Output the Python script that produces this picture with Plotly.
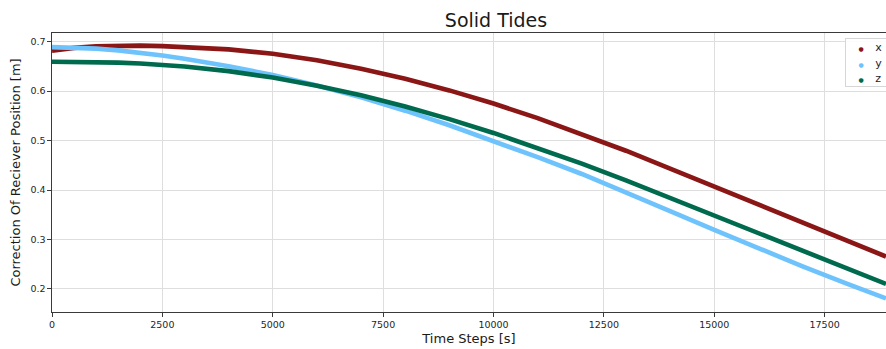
import plotly.graph_objects as go

# Time steps [s]
time_s = [0, 500, 1000, 1500, 2000, 2500, 3000, 4000, 5000, 6000, 7000, 8000,
          9000, 10000, 11000, 12000, 13000, 14000, 15000, 16000, 17000, 18000, 18890]

# Correction of receiver position [m]
corr_x = [0.682, 0.6875, 0.6905, 0.6918, 0.692, 0.691, 0.6893, 0.6845, 0.6755, 0.6625,
          0.6455, 0.625, 0.6015, 0.575, 0.5455, 0.5135, 0.4795, 0.4435, 0.4067, 0.3699,
          0.3333, 0.2971, 0.2655]
corr_y = [0.689, 0.6885, 0.686, 0.6825, 0.678, 0.672, 0.6655, 0.6505, 0.6325, 0.6115,
          0.5875, 0.5605, 0.531, 0.4995, 0.4665, 0.4325, 0.396, 0.3575, 0.3195, 0.2821,
          0.2458, 0.2108, 0.181]
corr_z = [0.6595, 0.6595, 0.659, 0.6577, 0.656, 0.6533, 0.650, 0.6405, 0.6275, 0.611,
          0.5915, 0.569, 0.5435, 0.5155, 0.4855, 0.4535, 0.4195, 0.384, 0.3475, 0.311,
          0.275, 0.240, 0.2102]

series_names = ["x", "y", "z"]
series_colors = ["#8b1616", "#6ec3fd", "#006a4e"]
series_values = [corr_x, corr_y, corr_z]

fig = go.Figure()
for name, color, vals in zip(series_names, series_colors, series_values):
    fig.add_trace(go.Scatter(
        x=time_s, y=vals, mode="lines", name=name,
        line=dict(color=color, width=4.6), hoverinfo="skip"))

# legend drawn as a text box (matplotlib-like compact legend)
NB = "\u00a0"
legend_lines = []
for name, color in zip(series_names, series_colors):
    legend_lines.append(
        NB * 3 + f"<span style='color:{color};font-size:6px'>●</span>" + NB * 3
        + f"<span style='font-size:11px'>{name}</span>")
legend_text = "<br>".join(legend_lines) + NB * 6

font_family = "DejaVu Sans"
fig.update_layout(
    width=886, height=349,
    margin=dict(l=52, r=0, t=33, b=37),
    paper_bgcolor="white", plot_bgcolor="white",
    font=dict(family=font_family, size=9.5, color="#262626"),
    title=dict(text="Solid Tides", x=471.7 / 886, xref="paper", xanchor="center",
               y=1 - 20.5 / 349, yref="container", yanchor="middle",
               font=dict(size=19, color="#1a1a1a")),
    showlegend=False,
    annotations=[dict(
        text=legend_text, xref="paper", yref="paper",
        x=(845 - 52) / 834, y=(312 - 38.3) / 279, xanchor="left", yanchor="top",
        align="left", showarrow=False, bgcolor="rgba(255,255,255,0.9)",
        bordercolor="#d6d6d6", borderwidth=1, borderpad=1,
        font=dict(size=12, color="#262626", family=font_family))],
)
fig.update_xaxes(
    range=[0, 18890], tickmode="array", tickvals=[0, 2500, 5000, 7500, 10000, 12500, 15000, 17500],
    ticktext=["0", "2500", "5000", "7500", "10000", "12500", "15000", "17500"],
    showgrid=True, gridcolor="#dedede", gridwidth=1,
    showline=True, linecolor="#3a3a3a", linewidth=1.2, mirror=True,
    ticks="outside", ticklen=3.5, tickcolor="#3a3a3a", tickwidth=1,
    zeroline=False,
    title=dict(text="Time Steps [s]", font=dict(size=13, color="#1a1a1a"), standoff=4),
)
fig.update_yaxes(
    range=[0.1534, 0.7176], tickmode="array", tickvals=[0.2, 0.3, 0.4, 0.5, 0.6, 0.7],
    ticktext=["0.2", "0.3", "0.4", "0.5", "0.6", "0.7"],
    showgrid=True, gridcolor="#dedede", gridwidth=1,
    showline=True, linecolor="#3a3a3a", linewidth=1.2, mirror=False,
    ticks="outside", ticklen=3.5, tickcolor="#3a3a3a", tickwidth=1,
    zeroline=False,
    title=dict(text="Correction Of Reciever Position [m]", font=dict(size=13, color="#1a1a1a"), standoff=6),
)

fig.write_html("out.html")
